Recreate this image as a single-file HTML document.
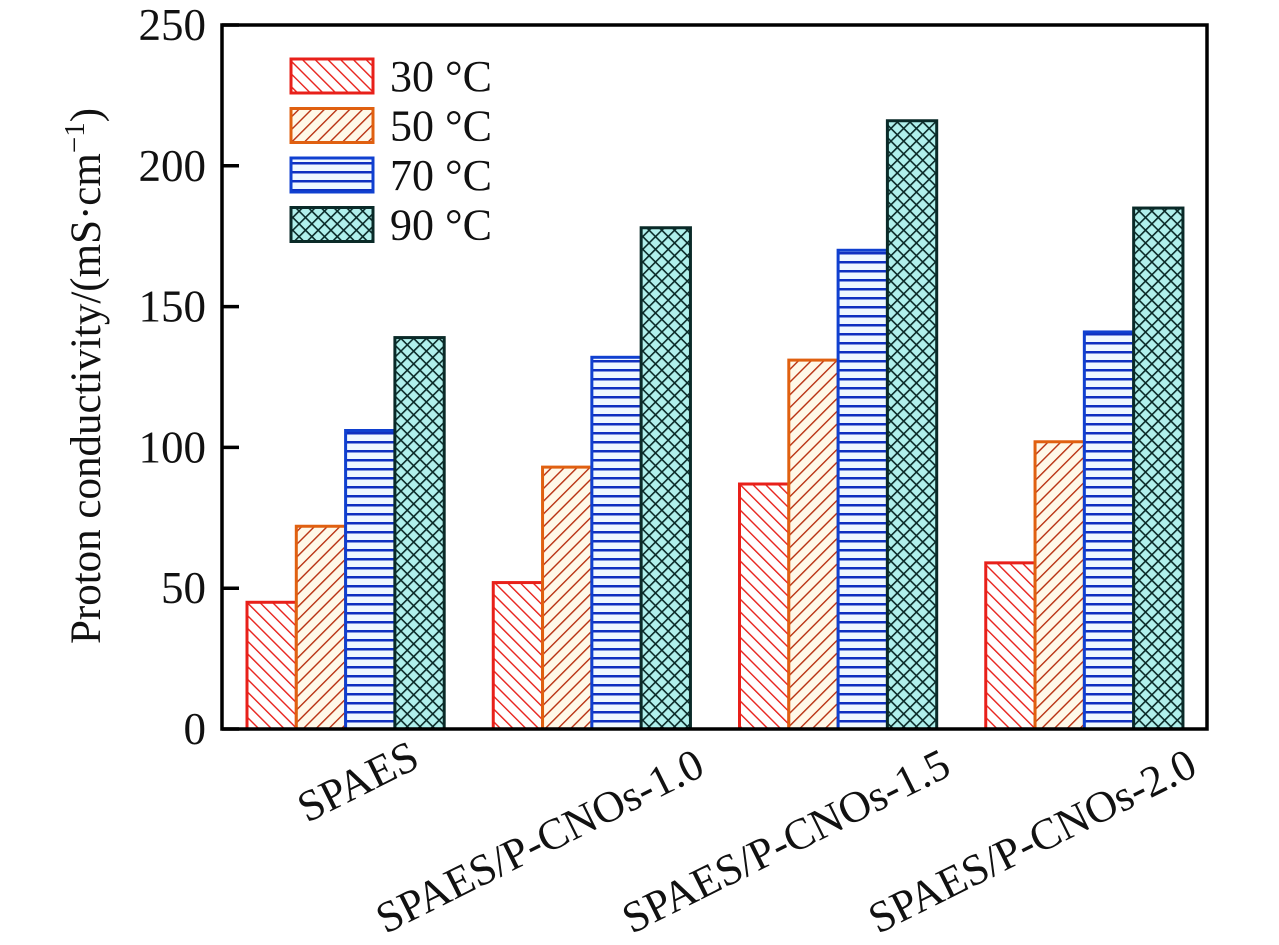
<!DOCTYPE html>
<html><head><meta charset="utf-8"><style>
html,body{margin:0;padding:0;background:#fff}
svg{display:block;font-family:"Liberation Serif",serif}
</style></head><body>
<svg id="chart" width="1279" height="945" viewBox="0 0 1279 945" xmlns="http://www.w3.org/2000/svg">
<defs>
<pattern id="p30" patternUnits="userSpaceOnUse" width="9" height="9" patternTransform="rotate(-45)">
<rect width="9" height="9" fill="#fff"/><line x1="0" y1="0" x2="0" y2="9" stroke="#e8201a" stroke-width="2.8"/></pattern>
<pattern id="p50" patternUnits="userSpaceOnUse" width="9" height="9" patternTransform="rotate(45)">
<rect width="9" height="9" fill="#fff8e8"/><line x1="0" y1="0" x2="0" y2="9" stroke="#b83010" stroke-width="2.8"/></pattern>
<pattern id="p70" patternUnits="userSpaceOnUse" width="12" height="9">
<rect width="12" height="9" fill="#f0f8ff"/><line x1="0" y1="1" x2="12" y2="1" stroke="#1030c0" stroke-width="3"/></pattern>
<pattern id="p90" patternUnits="userSpaceOnUse" width="9" height="9" patternTransform="rotate(45)">
<rect width="9" height="9" fill="#b0f0ec"/><line x1="0" y1="0" x2="0" y2="9" stroke="#0a2a28" stroke-width="3.2"/><line x1="0" y1="0" x2="9" y2="0" stroke="#0a2a28" stroke-width="3.2"/></pattern>
</defs>
<g id="bars"></g>
<g id="axes"></g>
<g id="legend"></g>
</svg>
<script>
const categories = ["SPAES","SPAES/P-CNOs-1.0","SPAES/P-CNOs-1.5","SPAES/P-CNOs-2.0"];
const series30 = [45, 52, 87, 59];
const series50 = [72, 93, 131, 102];
const series70 = [106, 132, 170, 141];
const series90 = [139, 178, 216, 185];
const seriesNames = ["30 °C","50 °C","70 °C","90 °C"];
const yTicks = [0, 50, 100, 150, 200, 250];

const NS = "http://www.w3.org/2000/svg";
const X0 = 222, X1 = 1207, Y0 = 729, Y1 = 25, YMAX = 250;
const fills = ["url(#p30)","url(#p50)","url(#p70)","url(#p90)"];
const strokes = ["#e8201a","#e06010","#1040d0","#0a2a28"];
const groupW = (X1 - X0) / categories.length;
const barW = 49.3;
function y(v){ return Y0 - (v / YMAX) * (Y0 - Y1); }
function gx(i){ return X0 + 25 + i * groupW; }
function mk(tag, attrs, parent){ const e = document.createElementNS(NS, tag); for (const k in attrs) e.setAttribute(k, attrs[k]); parent.appendChild(e); return e; }

const allSeries = [series30, series50, series70, series90];
const bars = document.getElementById('bars');
allSeries.forEach((s, si) => {
  s.forEach((v, ci) => {
    const r = mk('rect', {x: gx(ci) + si * barW, y: y(v), width: barW, height: Y0 - y(v), fill: fills[si], stroke: strokes[si], 'stroke-width': 3}, bars);
    
    
  });
});

const axes = document.getElementById('axes');
const frame = mk('path', {d: `M${X0} ${Y1} L${X0} ${Y0} L${X1} ${Y0} L${X1} ${Y1} Z`, fill: 'none', stroke: '#000', 'stroke-width': 3.5}, axes);


yTicks.forEach(t => {
  const tk = mk('line', {x1: X0, x2: X0 + 17, y1: y(t), y2: y(t), stroke: '#000', 'stroke-width': 3.5}, axes);
  
  
  const lb = mk('text', {x: X0 - 16, y: y(t) + 15, 'text-anchor': 'end', 'font-size': 45, fill: '#111'}, axes);
  lb.textContent = t;
  
  
});
const yt = mk('text', {x: 0, y: 0, transform: 'translate(100,376) rotate(-90)', 'text-anchor': 'middle', 'font-size': 43, fill: '#111'}, axes);
yt.innerHTML = 'Proton conductivity/(mS·cm<tspan dy="-16" font-size="29">−1</tspan><tspan dy="16">)</tspan>';


categories.forEach((c, ci) => {
  const cx = gx(ci) + 2 * barW;
  const dx = ci === 0 ? 76 : 115;
  const t = mk('text', {x: 0, y: 0, transform: `translate(${cx + dx},${ci===0?766:774}) rotate(-26.5)`, 'text-anchor': 'end', 'font-size': 44, fill: '#111'}, axes);
  t.textContent = c;
  
  
});

const legend = document.getElementById('legend');
seriesNames.forEach((n, i) => {
  const ly = 59 + i * 49.5;
  const r = mk('rect', {x: 291, y: ly, width: 82, height: 34, fill: fills[i], stroke: strokes[i], 'stroke-width': 3}, legend);
  
  
  const t = mk('text', {x: 390, y: ly + 32, 'font-size': 44, fill: '#111'}, legend);
  t.textContent = n;
  
  
});
</script>
</body></html>
